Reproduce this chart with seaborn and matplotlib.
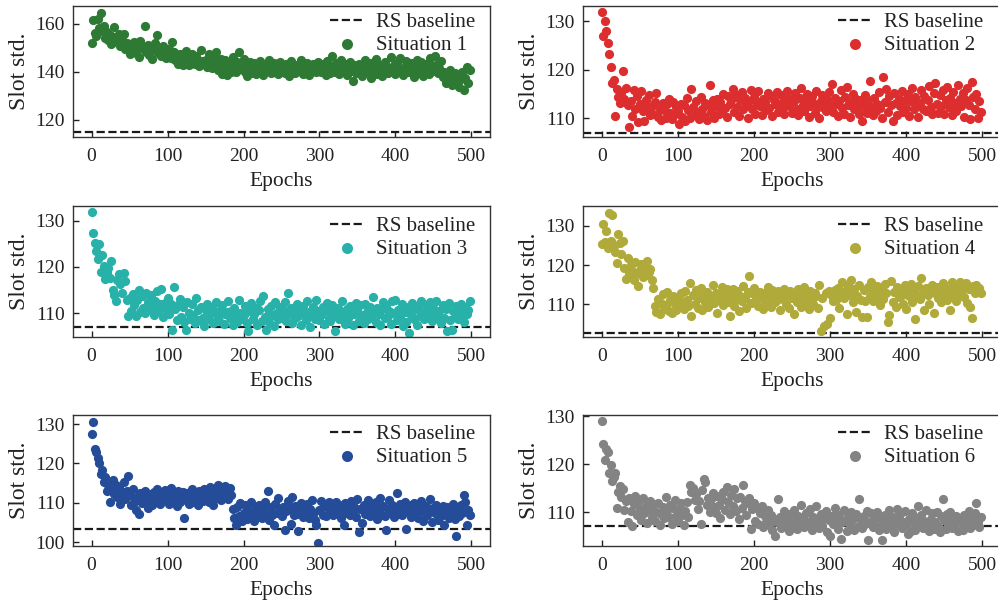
import numpy as np
import pandas as pd
import matplotlib
matplotlib.use("Agg")
import matplotlib.pyplot as plt
import seaborn as sns

sns.set_style("ticks")
plt.rcParams['font.family'] = ['Liberation Serif', 'DejaVu Serif']
plt.rcParams['mathtext.fontset'] = 'stix'

epochs = list(range(0, 500, 2))

situation_labels = ["Situation 1", "Situation 2", "Situation 3",
                    "Situation 4", "Situation 5", "Situation 6"]
baselines = [115.0, 107.1, 107.0, 102.8, 103.2, 107.1]
colors = ["#2e7a34", "#dc2e2e", "#27b1a9", "#b0aa3a", "#244c98", "#838383"]

s1 = [152.0, 161.5, 156.2, 155.0, 162.0, 158.3, 164.5, 157.0, 159.1, 154.0, 156.8, 153.2, 155.5, 151.8, 154.6, 158.6, 153.0, 152.5, 155.9, 150.8, 153.4, 156.0, 149.5, 152.2, 150.2,
      147.5, 151.0, 149.2, 152.5, 148.0, 150.6, 146.2, 153.1, 149.8, 150.3, 159.0, 148.5, 151.4, 147.2, 150.0, 145.3, 149.4, 152.0, 155.5, 147.9, 149.0, 146.5, 150.8, 148.2, 145.8,
      147.0, 149.5, 146.0, 152.7, 148.3, 144.9, 146.8, 143.5, 147.6, 145.2, 143.0, 146.5, 148.9, 144.4, 142.8, 145.9, 147.3, 144.0, 143.2, 146.8, 145.0, 142.5, 149.0, 144.7, 143.6,
      145.2, 142.0, 147.5, 143.8, 141.6, 146.0, 144.3, 148.5, 140.8, 143.0, 145.6, 139.2, 142.4, 144.8, 138.9, 141.5, 143.9, 140.2, 146.4, 142.6, 139.8, 144.0, 148.2, 141.1, 143.5,
      145.5, 140.0, 138.2, 142.3, 144.2, 139.5, 141.8, 143.6, 139.0, 142.9, 140.6, 144.5, 141.2, 138.8, 143.1, 140.4, 142.0, 145.2, 139.6, 141.4, 143.8, 140.1, 142.7, 139.3, 144.0,
      141.0, 142.8, 139.7, 143.3, 141.5, 138.5, 144.4, 140.8, 142.2, 139.4, 143.0, 141.7, 140.3, 144.9, 139.1, 142.5, 141.0, 143.6, 138.6, 141.9, 140.5, 143.2, 142.1, 139.8, 144.3,
      141.3, 140.0, 143.5, 142.4, 138.9, 144.6, 141.1, 139.6, 146.5, 142.7, 140.2, 143.8, 141.6, 139.0, 145.0, 142.0, 140.6, 143.2, 138.7, 141.8, 144.1, 140.4, 136.3, 142.9, 139.5,
      141.5, 143.4, 140.1, 138.4, 142.6, 144.8, 139.9, 141.2, 143.7, 137.5, 140.7, 142.3, 145.5, 139.3, 141.9, 143.1, 138.2, 140.6, 144.2, 142.0, 139.7, 141.4, 146.2, 140.3, 142.8,
      139.0, 143.9, 141.6, 145.7, 140.5, 138.6, 142.2, 144.4, 139.8, 141.3, 143.6, 140.0, 137.9, 142.7, 145.2, 139.4, 141.8, 144.0, 138.3, 140.9, 143.3, 141.1, 139.2, 145.8, 142.4,
      140.4, 146.5, 143.0, 139.6, 141.7, 144.6, 137.8, 140.2, 135.2, 138.6, 136.4, 140.9, 134.5, 137.2, 139.5, 135.8, 138.1, 133.6, 136.9, 139.8, 132.5, 137.5, 142.0, 135.5, 140.8]

s2 = [131.8, 127.0, 130.0, 128.0, 125.5, 123.3, 120.5, 117.2, 118.0, 110.5, 116.0, 114.5, 113.2, 115.3, 119.7, 114.0, 116.2, 112.8, 108.3, 113.5, 110.5, 115.8, 112.0, 114.6, 109.3,
      113.0, 115.6, 111.5, 109.5, 113.8, 112.2, 114.9, 110.8, 112.6, 111.0, 113.4, 115.2, 110.4, 112.0, 109.6, 113.1, 111.7, 110.2, 112.9, 114.1, 111.2, 109.8, 113.3, 110.9, 112.4,
      111.5, 108.9, 113.0, 110.3, 112.7, 109.4, 114.2, 111.8, 110.0, 116.1, 112.3, 110.7, 113.6, 111.1, 109.9, 114.5, 112.0, 110.5, 113.2, 109.7, 112.8, 116.8, 111.4, 113.9, 110.2,
      112.5, 114.0, 110.9, 113.3, 111.6, 115.1, 112.1, 110.4, 114.6, 112.9, 113.7, 116.0, 111.3, 114.8, 112.4, 110.6, 113.9, 115.4, 111.9, 114.2, 112.7, 110.1, 113.5, 115.8, 112.0,
      114.4, 111.0, 113.1, 115.6, 112.5, 110.7, 114.0, 113.3, 111.8, 115.2, 112.2, 114.6, 110.5, 113.7, 112.9, 115.5, 111.4, 113.0, 114.8, 112.3, 110.9, 113.8, 115.7, 112.6, 114.1,
      111.2, 113.6, 115.3, 112.0, 110.8, 114.3, 116.2, 112.8, 111.5, 113.9, 115.0, 110.3, 112.6, 114.7, 113.2, 111.1, 115.6, 112.4, 110.0, 113.5, 114.9, 112.1, 111.6, 113.8, 115.4,
      112.7, 117.0, 111.3, 114.2, 112.9, 110.6, 113.6, 115.8, 112.2, 111.0, 114.5, 116.4, 112.8, 110.4, 113.3, 115.1, 111.9, 114.0, 112.5, 110.9, 113.7, 109.5, 112.3, 114.8, 111.1,
      113.9, 117.8, 112.4, 110.7, 114.3, 111.6, 113.0, 115.5, 112.1, 110.2, 118.6, 113.4, 116.0, 111.3, 114.6, 112.8, 109.5, 115.2, 113.1, 110.8, 114.1, 112.6, 115.7, 111.4, 113.8,
      112.2, 115.0, 110.6, 113.6, 116.2, 111.9, 114.4, 112.7, 110.3, 113.2, 115.8, 112.0, 114.7, 111.5, 113.9, 116.6, 112.4, 110.9, 115.3, 117.3, 113.0, 111.2, 114.9, 112.6, 115.9,
      111.0, 113.7, 116.5, 112.3, 114.2, 110.7, 115.4, 113.1, 111.6, 116.8, 114.0, 112.5, 115.2, 110.4, 113.9, 116.3, 112.8, 109.8, 117.4, 114.5, 112.0, 115.1, 110.2, 113.6, 111.3]

s3 = [132.0, 127.3, 125.1, 123.4, 121.8, 124.9, 119.0, 122.6, 120.2, 117.3, 118.6, 119.8, 117.5, 121.2, 115.0, 113.9, 112.5, 117.1, 118.4, 116.2, 114.3, 118.7, 116.9, 112.8, 109.4,
      113.2, 110.5, 114.1, 111.8, 109.3, 112.9, 115.0, 110.2, 113.6, 111.1, 109.9, 114.4, 112.3, 110.7, 113.8, 111.6, 109.5, 112.5, 114.8, 110.4, 111.9, 115.1, 109.2, 112.2, 110.8,
      113.3, 109.7, 112.0, 106.3, 115.6, 110.9, 108.5, 111.7, 113.0, 109.2, 111.3, 108.0, 106.3, 112.4, 110.1, 108.8, 111.9, 109.5, 107.9, 113.2, 110.6, 108.4, 111.4, 109.0, 107.2,
      110.7, 112.0, 108.6, 109.9, 111.2, 107.8, 110.3, 112.3, 109.1, 108.2, 110.9, 111.8, 107.6, 109.7, 110.2, 112.6, 108.9, 110.5, 107.3, 111.0, 109.4, 108.1, 112.9, 110.0, 108.7,
      109.6, 111.5, 107.9, 106.2, 110.4, 112.1, 108.6, 109.8, 111.0, 107.5, 110.7, 112.6, 108.3, 113.7, 109.2, 106.3, 110.9, 108.0, 111.6, 109.5, 107.1, 112.3, 110.1, 108.8, 111.2,
      109.0, 110.6, 112.4, 108.2, 114.4, 109.7, 111.1, 107.8, 110.3, 108.9, 112.0, 109.3, 110.8, 107.4, 111.5, 109.9, 108.5, 112.6, 110.2, 107.0, 109.6, 111.3, 108.7, 112.8, 110.5,
      108.4, 109.5, 111.2, 107.6, 110.7, 112.1, 109.0, 108.2, 111.8, 110.1, 106.2, 109.4, 111.0, 108.6, 110.3, 112.5, 109.1, 107.7, 110.9, 108.9, 111.5, 110.0, 107.5, 109.8, 112.2,
      110.4, 108.3, 111.7, 109.6, 107.9, 112.0, 110.2, 108.7, 111.3, 109.2, 113.5, 110.6, 108.1, 111.0, 109.7, 107.3, 110.8, 112.4, 108.9, 111.6, 109.3, 110.5, 107.6, 112.7, 109.9,
      112.9, 108.5, 110.7, 109.1, 111.9, 107.2, 110.3, 108.0, 111.4, 105.7, 109.6, 112.2, 108.8, 110.9, 107.4, 111.3, 109.4, 112.5, 110.1, 108.6, 111.7, 109.2, 110.6, 112.3, 108.3,
      111.0, 109.5, 112.6, 108.7, 110.4, 107.9, 111.8, 109.0, 110.9, 106.2, 112.1, 108.4, 106.3, 110.5, 109.2, 111.5, 108.8, 110.2, 112.0, 109.6, 108.1, 111.2, 109.8, 110.7, 112.7]

s4 = [125.3, 130.5, 125.8, 128.6, 124.4, 133.3, 126.0, 132.7, 124.9, 123.2, 120.5, 127.9, 125.5, 122.8, 126.1, 119.3, 116.5, 121.8, 117.6, 120.0, 118.4, 116.2, 120.7, 117.9, 114.7,
      118.8, 120.2, 116.9, 119.5, 117.4, 120.9, 118.1, 119.0, 116.3, 114.2, 109.5, 108.0, 111.3, 107.6, 110.4, 112.6, 108.7, 109.9, 113.1, 108.3, 111.0, 107.9, 112.2, 110.1, 108.6,
      111.8, 109.2, 112.9, 110.5, 108.8, 113.4, 111.1, 109.6, 115.4, 107.0, 112.3, 110.2, 113.6, 109.0, 111.7, 114.1, 108.5, 112.8, 110.7, 113.2, 109.4, 111.5, 112.0, 115.0, 110.3,
      113.0, 107.8, 111.2, 112.7, 114.4, 109.8, 111.9, 113.8, 110.6, 107.1, 112.5, 114.0, 109.5, 111.3, 113.5, 108.2, 112.1, 110.9, 114.6, 111.6, 109.1, 113.2, 117.3, 110.4, 112.8,
      114.2, 110.8, 112.4, 109.7, 113.1, 111.5, 108.9, 112.9, 110.3, 114.3, 111.8, 109.4, 113.7, 112.2, 110.6, 111.0, 113.4, 108.5, 112.6, 111.3, 114.0, 110.0, 112.3, 109.1, 113.3,
      111.6, 107.6, 112.8, 110.7, 113.9, 111.2, 109.3, 112.5, 114.5, 110.5, 112.1, 108.8, 113.5, 111.4, 110.1, 113.0, 112.0, 109.0, 114.8, 103.1, 111.7, 104.6, 112.9, 104.9, 113.4,
      106.5, 112.2, 110.8, 113.6, 111.1, 114.2, 109.0, 112.7, 115.6, 111.5, 113.3, 107.6, 114.6, 112.4, 116.3, 110.6, 113.8, 108.0, 112.1, 115.0, 111.2, 106.7, 113.6, 110.9, 106.8,
      114.3, 112.0, 115.6, 110.8, 113.5, 111.7, 114.7, 112.6, 109.9, 113.9, 111.4, 115.2, 112.9, 105.6, 107.4, 115.9, 110.5, 113.2, 109.3, 114.4, 111.9, 113.7, 112.3, 110.2, 114.9,
      108.9, 113.6, 112.1, 115.1, 110.7, 113.9, 106.4, 112.5, 114.6, 111.3, 116.8, 113.0, 108.6, 114.2, 112.4, 110.1, 113.8, 115.0, 107.8, 112.9, 114.3, 111.6, 113.5, 110.5, 115.4,
      112.7, 114.1, 111.0, 113.6, 108.6, 115.6, 112.3, 114.5, 110.9, 113.2, 115.8, 112.5, 114.0, 111.8, 115.3, 110.4, 113.9, 109.3, 106.5, 114.7, 112.8, 115.0, 113.4, 114.2, 112.9]

s5 = [127.5, 130.5, 123.6, 122.8, 121.3, 120.0, 117.2, 118.3, 115.2, 116.5, 113.1, 114.6, 110.3, 113.5, 115.8, 112.2, 114.4, 111.5, 113.9, 109.8, 112.7, 115.3, 110.9, 113.0, 116.7,
      112.0, 109.4, 113.6, 110.2, 108.1, 111.5, 107.2, 112.4, 109.9, 111.2, 113.1, 110.5, 108.7, 112.3, 111.0, 109.3, 112.8, 110.6, 113.5, 111.8, 109.7, 112.2, 110.9, 113.3, 111.4,
      112.6, 109.6, 113.8, 110.8, 112.0, 111.2, 109.1, 113.0, 110.3, 111.9, 112.7, 106.0, 110.6, 112.4, 109.8, 111.5, 113.4, 110.1, 112.2, 111.0, 109.4, 112.9, 111.7, 110.4, 113.6,
      111.3, 112.5, 110.2, 113.9, 111.8, 109.5, 112.8, 111.1, 114.6, 112.0, 110.7, 113.3, 111.5, 114.2, 112.6, 110.9, 113.7, 111.9, 108.4, 106.2, 104.3, 108.9, 106.7, 110.0, 105.4,
      107.5, 109.3, 105.8, 108.2, 106.9, 110.1, 107.6, 105.3, 108.8, 106.4, 109.5, 107.9, 106.1, 108.5, 110.3, 107.2, 113.0, 105.6, 108.9, 106.8, 104.4, 109.7, 107.4, 111.1, 108.1,
      106.5, 109.0, 103.0, 107.9, 110.5, 108.3, 104.6, 111.4, 106.9, 109.2, 107.1, 102.8, 108.6, 110.0, 106.3, 108.9, 107.5, 109.8, 106.0, 108.3, 110.6, 107.2, 105.5, 104.3, 99.8,
      108.2, 110.4, 107.0, 109.1, 106.6, 108.8, 110.1, 107.4, 109.6, 106.9, 108.5, 110.2, 107.7, 109.3, 106.2, 108.1, 104.3, 109.9, 107.5, 108.7, 106.8, 110.5, 107.9, 109.0, 106.4,
      111.0, 102.5, 108.3, 104.8, 109.4, 107.1, 108.9, 110.7, 106.5, 108.0, 109.7, 107.3, 110.3, 105.9, 108.6, 111.2, 107.0, 109.2, 106.7, 103.0, 108.4, 110.6, 107.7, 109.5, 106.3,
      108.8, 112.5, 107.2, 109.6, 106.8, 108.5, 110.1, 103.2, 107.9, 109.3, 106.4, 108.7, 110.0, 107.4, 109.8, 106.1, 108.2, 110.4, 105.3, 107.6, 109.1, 106.9, 108.4, 111.0, 105.0,
      108.6, 107.3, 109.5, 105.7, 108.0, 106.5, 109.2, 104.4, 107.8, 109.0, 106.2, 108.3, 107.0, 109.7, 105.9, 101.5, 108.1, 106.7, 109.4, 107.5, 112.0, 110.1, 104.4, 108.2, 106.9]

s6 = [129.0, 124.3, 121.0, 123.3, 122.6, 118.2, 119.8, 116.5, 117.3, 118.3, 111.0, 114.2, 115.6, 113.3, 114.8, 110.5, 112.4, 108.0, 113.1, 110.2, 107.1, 111.8, 113.4, 109.4, 112.2,
      110.8, 108.5, 112.9, 109.9, 111.3, 107.8, 110.6, 112.4, 109.1, 111.7, 108.3, 110.0, 112.0, 107.3, 109.6, 111.2, 108.8, 113.3, 110.4, 109.0, 111.6, 107.6, 110.9, 112.5, 109.3,
      108.2, 110.7, 111.9, 109.5, 107.4, 110.3, 112.1, 109.0, 115.8, 114.2, 115.0, 112.6, 113.9, 110.8, 112.3, 107.6, 114.6, 117.0, 116.3, 111.5, 113.0, 110.1, 112.8, 114.1, 111.2,
      109.8, 113.5, 111.6, 108.9, 112.7, 114.3, 110.5, 115.3, 112.1, 109.6, 113.6, 111.3, 114.8, 110.2, 112.9, 108.6, 113.2, 111.0, 115.8, 112.4, 109.4, 111.9, 113.1, 106.6, 110.7,
      112.0, 108.2, 110.9, 107.5, 109.8, 111.3, 106.9, 109.2, 108.0, 110.6, 107.3, 109.5, 106.4, 108.7, 105.0, 107.9, 112.7, 109.1, 106.8, 108.4, 110.2, 107.1, 108.9, 106.2, 109.6,
      107.6, 110.5, 108.3, 106.5, 109.3, 107.8, 111.6, 108.6, 106.9, 109.9, 107.4, 108.1, 110.7, 106.3, 109.0, 107.7, 111.3, 108.5, 106.7, 109.6, 107.2, 108.8, 110.3, 106.0, 108.4,
      105.0, 109.2, 107.5, 110.9, 108.0, 106.6, 109.5, 104.5, 107.9, 110.6, 108.3, 106.1, 109.1, 107.3, 110.0, 108.7, 106.4, 109.7, 107.0, 112.7, 108.5, 106.8, 109.3, 107.6, 110.2,
      104.3, 108.0, 109.9, 106.9, 108.6, 107.2, 110.1, 106.3, 108.9, 104.3, 107.5, 109.4, 106.6, 108.2, 110.5, 107.0, 109.1, 106.0, 108.4, 110.8, 107.3, 109.6, 106.7, 108.1, 110.3,
      107.4, 105.5, 108.7, 106.2, 109.8, 107.7, 106.4, 108.9, 111.3, 107.1, 109.5, 106.8, 108.3, 110.4, 107.0, 106.1, 108.6, 109.9, 106.5, 108.0, 110.1, 107.2, 106.0, 109.2, 112.8,
      108.4, 106.5, 109.7, 107.3, 110.1, 106.8, 108.6, 107.6, 109.3, 106.2, 108.8, 107.9, 106.4, 109.5, 107.0, 108.3, 110.2, 106.7, 108.9, 107.4, 109.8, 112.0, 108.1, 107.0, 109.1]

series = [s1, s2, s3, s4, s5, s6]

W, H = 998, 602
fig = plt.figure(figsize=(W / 100, H / 100), dpi=100)

col_left = [73, 583]
col_right = [490, 1001]
row_top = [6, 206, 415]
row_bot = [137, 337, 546]
legend_x = [488, 996]
legend_y = [0, 204, 412]
ylims = [(112.9, 167.5), (106.2, 133.1), (104.8, 133.2),
         (101.7, 135.0), (99.0, 132.3), (103.0, 130.3)]
yticks = [[120, 140, 160], [110, 120, 130], [110, 120, 130],
          [110, 120, 130], [100, 110, 120, 130], [110, 120, 130]]

for i in range(6):
    r, c = divmod(i, 2)
    x0 = col_left[c] / W
    w = (col_right[c] - col_left[c]) / W
    y0 = 1 - row_bot[r] / H
    h = (row_bot[r] - row_top[r]) / H
    ax = fig.add_axes([x0, y0, w, h])
    ax.axhline(baselines[i], color="#1a1a1a", ls="--", lw=1.6, label="RS baseline", zorder=1)
    df = pd.DataFrame({"Epochs": epochs, "Slot std.": series[i]})
    sns.scatterplot(data=df, x="Epochs", y="Slot std.", ax=ax, color=colors[i],
                    s=44, linewidth=0, alpha=1.0, label=situation_labels[i], zorder=2)
    ax.set_xlim(-24.5, 524.5)
    ax.set_ylim(*ylims[i])
    ax.set_xticks([0, 100, 200, 300, 400, 500])
    ax.set_yticks(yticks[i])
    ax.tick_params(direction="in", length=4, width=1, labelsize=14, colors="#222222",
                   labelcolor="#222222")
    ax.tick_params(axis="x", pad=8)
    ax.tick_params(axis="y", pad=6)
    for sp in ax.spines.values():
        sp.set_linewidth(1.0)
        sp.set_color("#333333")
    ax.set_xlabel("Epochs", fontsize=15.5, color="#222222", labelpad=5)
    ax.set_ylabel("Slot std.", fontsize=17, color="#222222", labelpad=4)
    leg = ax.legend(loc="upper right", frameon=False, fontsize=15, handlelength=1.6,
                    handletextpad=0.6, borderaxespad=0.2, borderpad=0.4,
                    labelspacing=0.15, markerscale=1.2,
                    bbox_to_anchor=(legend_x[c] / W, 1 - legend_y[r] / H),
                    bbox_transform=fig.transFigure)
    for t in leg.get_texts():
        t.set_color("#222222")

fig.savefig("out.png", dpi=100)
